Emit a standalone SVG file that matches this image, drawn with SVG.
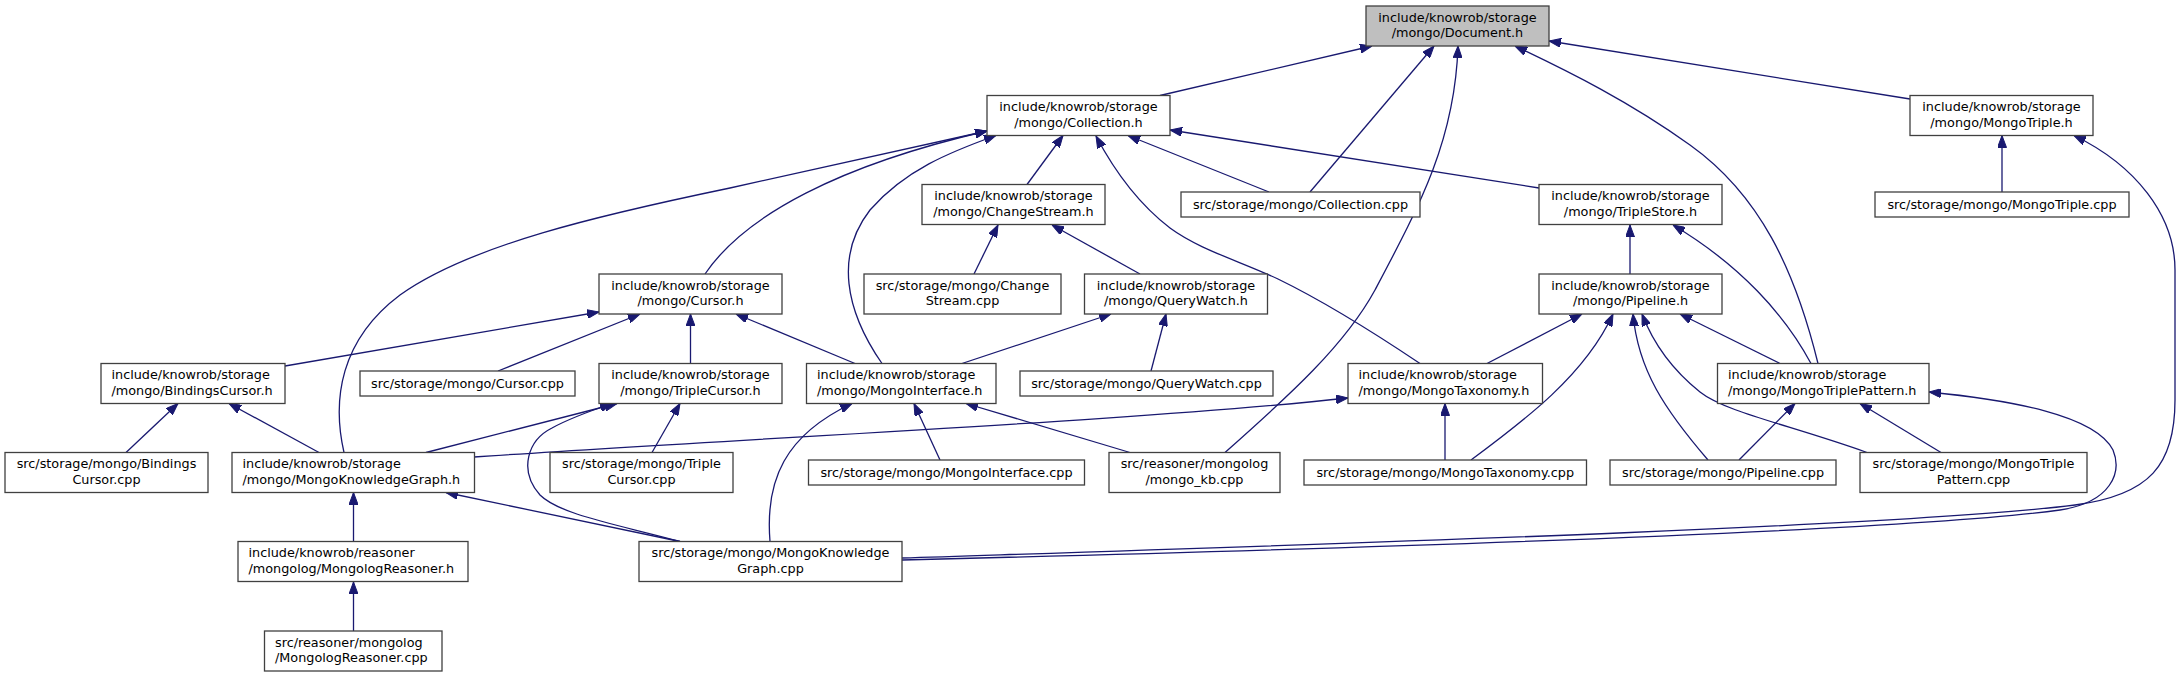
<svg xmlns="http://www.w3.org/2000/svg" width="2181" height="677" viewBox="0 0 2181 677">
<defs>
<style>
.n rect{fill:#fff;stroke:#404040;stroke-width:1.3}
.root rect{fill:#bfbfbf}
.n text{font-family:"DejaVu Sans",sans-serif;font-size:12.8px;fill:#000;text-anchor:middle}
.n text.l{text-anchor:start}
.e path{fill:none;stroke:#191970;stroke-width:1.3;marker-end:url(#a)}
</style>
<marker id="a" markerUnits="userSpaceOnUse" markerWidth="12" markerHeight="9" viewBox="0 0 12 9" refX="12" refY="4.5" orient="auto">
<path d="M0,0 L12,4.5 L0,9 z" fill="#191970" stroke="#191970"/>
</marker>
</defs>
<rect width="2181" height="677" fill="#fff"/>
<g id="edges" class="e">
<path d="M1160,95.5 L1372,46"/>
<path d="M1310,192 L1434,46"/>
<path d="M1225,452.5 C1290,395 1345,345 1375,290 C1420,205 1455,140 1458,46"/>
<path d="M1818,363.5 C1795,270 1760,195 1690,145 C1630,102 1570,72 1515,46"/>
<path d="M1910,99 L1549,41"/>
<path d="M1027,184.5 L1063,135.5"/>
<path d="M1269,192 L1128,135.5"/>
<path d="M1539,188 L1170,130"/>
<path d="M705,274 C745,215 840,165 987,131"/>
<path d="M344,452.5 C332,400 340,340 400,295 C470,245 600,215 730,188 L987,131"/>
<path d="M882,363.5 C845,310 835,255 870,210 C905,170 950,152 996,135.5"/>
<path d="M1420,363.5 C1370,330 1315,297 1278,279 C1240,261 1200,250 1170,228 C1140,205 1115,172 1096,136"/>
<path d="M2002,192 L2002,135.5"/>
<path d="M902,558 C1300,545 1900,527 2075,505 C2150,495 2175,465 2175,400 L2175,270 C2175,215 2135,165 2074,135.5"/>
<path d="M974,274 L998,225"/>
<path d="M1140,274 L1052,225"/>
<path d="M1630,274 L1630,225"/>
<path d="M1811,363.5 C1785,315 1740,265 1673,225"/>
<path d="M285,366 L599,312"/>
<path d="M498,371 L640,314"/>
<path d="M690.5,363.5 L690.5,314"/>
<path d="M855,363.5 L736,314"/>
<path d="M962,363.5 L1111,314"/>
<path d="M1151,371 L1166,314"/>
<path d="M1487,363.5 L1582,314"/>
<path d="M1471,460 C1525,420 1585,375 1613,314"/>
<path d="M1708,460 C1665,410 1638,370 1633,314"/>
<path d="M1867,452.5 C1790,425 1725,412 1700,392 C1670,368 1652,340 1642,314"/>
<path d="M1780,363.5 L1680,314"/>
<path d="M126,452.5 L178,403.5"/>
<path d="M319,452.5 L229,403.5"/>
<path d="M426,452.5 L617,403.5"/>
<path d="M652,452.5 L680,403.5"/>
<path d="M680,541.5 C620,525 560,515 540,495 C518,470 528,440 552,428 C570,418 590,411 612,403.5"/>
<path d="M940,460 L914,403.5"/>
<path d="M1130,452.5 L966,403.5"/>
<path d="M770,541.5 C765,480 785,435 852,403.5"/>
<path d="M474,457 C750,438 1150,420 1348,398"/>
<path d="M1445,460 L1445,403.5"/>
<path d="M1739,460 L1795,403.5"/>
<path d="M1941,452.5 L1860,403.5"/>
<path d="M902,560 C1300,550 1900,532 2060,510 C2112,502 2122,472 2113,450 C2095,415 2010,400 1929,392"/>
<path d="M353.5,541.5 L353.5,492.5"/>
<path d="M680,541.5 L446,492.5"/>
<path d="M353.5,631 L353.5,582"/>
</g>
<g id="document_h" class="n root"><rect x="1366" y="6" width="183" height="40"/><text x="1457.5" y="21.5">include/knowrob/storage</text><text x="1457.5" y="37">/mongo/Document.h</text></g>
<g id="collection_h" class="n"><rect x="987" y="95.5" width="183" height="40"/><text x="1078.5" y="111">include/knowrob/storage</text><text x="1078.5" y="126.5">/mongo/Collection.h</text></g>
<g id="mongotriple_h" class="n"><rect x="1910" y="95.5" width="183" height="40"/><text x="2001.5" y="111">include/knowrob/storage</text><text x="2001.5" y="126.5">/mongo/MongoTriple.h</text></g>
<g id="changestream_h" class="n"><rect x="922" y="184.5" width="183" height="40"/><text x="1013.5" y="200">include/knowrob/storage</text><text x="1013.5" y="215.5">/mongo/ChangeStream.h</text></g>
<g id="collection_cpp" class="n"><rect x="1181" y="192" width="239" height="25"/><text x="1300.5" y="209">src/storage/mongo/Collection.cpp</text></g>
<g id="triplestore_h" class="n"><rect x="1539" y="184.5" width="183" height="40"/><text x="1630.5" y="200">include/knowrob/storage</text><text x="1630.5" y="215.5">/mongo/TripleStore.h</text></g>
<g id="mongotriple_cpp" class="n"><rect x="1875" y="192" width="254" height="25"/><text x="2002" y="209">src/storage/mongo/MongoTriple.cpp</text></g>
<g id="cursor_h" class="n"><rect x="599" y="274" width="183" height="40"/><text x="690.5" y="289.5">include/knowrob/storage</text><text x="690.5" y="305">/mongo/Cursor.h</text></g>
<g id="changestream_cpp" class="n"><rect x="864" y="274" width="197" height="40"/><text x="962.5" y="289.5">src/storage/mongo/Change</text><text x="962.5" y="305">Stream.cpp</text></g>
<g id="querywatch_h" class="n"><rect x="1084.5" y="274" width="183" height="40"/><text x="1176" y="289.5">include/knowrob/storage</text><text x="1176" y="305">/mongo/QueryWatch.h</text></g>
<g id="pipeline_h" class="n"><rect x="1539" y="274" width="183" height="40"/><text x="1630.5" y="289.5">include/knowrob/storage</text><text x="1630.5" y="305">/mongo/Pipeline.h</text></g>
<g id="bindingscursor_h" class="n"><rect x="101" y="363.5" width="184" height="40"/><text class="l" x="111.5" y="379">include/knowrob/storage</text><text class="l" x="111.5" y="394.5">/mongo/BindingsCursor.h</text></g>
<g id="cursor_cpp" class="n"><rect x="360" y="371" width="215" height="25"/><text x="467.5" y="388">src/storage/mongo/Cursor.cpp</text></g>
<g id="triplecursor_h" class="n"><rect x="599" y="363.5" width="183" height="40"/><text x="690.5" y="379">include/knowrob/storage</text><text x="690.5" y="394.5">/mongo/TripleCursor.h</text></g>
<g id="mongointerface_h" class="n"><rect x="806.5" y="363.5" width="189.5" height="40"/><text class="l" x="817" y="379">include/knowrob/storage</text><text class="l" x="817" y="394.5">/mongo/MongoInterface.h</text></g>
<g id="querywatch_cpp" class="n"><rect x="1020" y="371" width="253" height="25"/><text x="1146.5" y="388">src/storage/mongo/QueryWatch.cpp</text></g>
<g id="mongotaxonomy_h" class="n"><rect x="1348" y="363.5" width="194.5" height="40"/><text class="l" x="1358.5" y="379">include/knowrob/storage</text><text class="l" x="1358.5" y="394.5">/mongo/MongoTaxonomy.h</text></g>
<g id="mongotriplepattern_h" class="n"><rect x="1717.5" y="363.5" width="211.5" height="40"/><text class="l" x="1728" y="379">include/knowrob/storage</text><text class="l" x="1728" y="394.5">/mongo/MongoTriplePattern.h</text></g>
<g id="bindingscursor_cpp" class="n"><rect x="5" y="452.5" width="203" height="40"/><text x="106.5" y="468">src/storage/mongo/Bindings</text><text x="106.5" y="483.5">Cursor.cpp</text></g>
<g id="mongoknowledgegraph_h" class="n"><rect x="232" y="452.5" width="242.5" height="40"/><text class="l" x="242.5" y="468">include/knowrob/storage</text><text class="l" x="242.5" y="483.5">/mongo/MongoKnowledgeGraph.h</text></g>
<g id="triplecursor_cpp" class="n"><rect x="550" y="452.5" width="183" height="40"/><text x="641.5" y="468">src/storage/mongo/Triple</text><text x="641.5" y="483.5">Cursor.cpp</text></g>
<g id="mongointerface_cpp" class="n"><rect x="808.5" y="460" width="276" height="25"/><text x="946.5" y="477">src/storage/mongo/MongoInterface.cpp</text></g>
<g id="mongo_kb_cpp" class="n"><rect x="1109" y="452.5" width="171" height="40"/><text x="1194.5" y="468">src/reasoner/mongolog</text><text x="1194.5" y="483.5">/mongo_kb.cpp</text></g>
<g id="mongotaxonomy_cpp" class="n"><rect x="1304" y="460" width="282.5" height="25"/><text x="1445.25" y="477">src/storage/mongo/MongoTaxonomy.cpp</text></g>
<g id="pipeline_cpp" class="n"><rect x="1610" y="460" width="226" height="25"/><text x="1723" y="477">src/storage/mongo/Pipeline.cpp</text></g>
<g id="mongotriplepattern_cpp" class="n"><rect x="1860" y="452.5" width="227" height="40"/><text x="1973.5" y="468">src/storage/mongo/MongoTriple</text><text x="1973.5" y="483.5">Pattern.cpp</text></g>
<g id="mongologreasoner_h" class="n"><rect x="238" y="541.5" width="230" height="40"/><text class="l" x="248.5" y="557">include/knowrob/reasoner</text><text class="l" x="248.5" y="572.5">/mongolog/MongologReasoner.h</text></g>
<g id="mongoknowledgegraph_cpp" class="n"><rect x="639" y="541.5" width="263" height="40"/><text x="770.5" y="557">src/storage/mongo/MongoKnowledge</text><text x="770.5" y="572.5">Graph.cpp</text></g>
<g id="mongologreasoner_cpp" class="n"><rect x="264.5" y="631" width="177.5" height="40"/><text class="l" x="275" y="646.5">src/reasoner/mongolog</text><text class="l" x="275" y="662">/MongologReasoner.cpp</text></g>
</svg>
